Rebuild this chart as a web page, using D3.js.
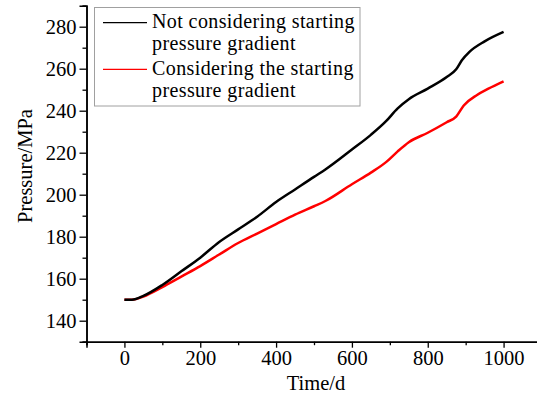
<!DOCTYPE html>
<html>
<head>
<meta charset="utf-8">
<script src="https://cdn.jsdelivr.net/npm/d3@7/dist/d3.min.js"></script>
<style>
  html, body { margin: 0; padding: 0; background: #fff; }
  svg { display: block; }
  text { font-family: "Liberation Serif", "Times New Roman", serif; fill: #000; }
</style>
</head>
<body>
<svg id="chart" width="537" height="397"></svg>
<script>
// Injection time (days) and wellhead pressure (MPa)
const timeNoGradient = [0, 20, 50, 100, 150, 200, 250, 300, 350, 400, 450, 500, 530, 600, 650, 690, 720, 750, 800, 850, 875, 890, 910, 950, 1000];
const pressureNoGradient = [150, 150, 151.8, 157, 163.5, 170, 177.5, 183.5, 189.5, 196.5, 202.5, 208.5, 212, 221.5, 228.5, 235, 241, 245.5, 250.5, 256, 259.7, 264, 268, 273, 277.5];

const timeGradient = [0, 20, 50, 100, 150, 200, 250, 300, 350, 400, 450, 500, 530, 600, 650, 690, 720, 750, 800, 850, 875, 895, 930, 960, 1000];
const pressureGradient = [150, 150, 151.5, 156, 161, 166, 171.5, 177, 181.5, 186, 190.5, 194.5, 197, 205, 210.5, 215.5, 220.5, 225, 229.5, 234.5, 237.2, 242.5, 247.5, 250.5, 254];

const seriesNames = [
  ["Not considering starting", "pressure gradient"],
  ["Considering the starting", "pressure gradient"]
];
const seriesColors = ["#000000", "#ff0000"];

const xMajorTicks = [0, 200, 400, 600, 800, 1000];
const xMinorTicks = [-100, 100, 300, 500, 700, 900, 1100];
const yMajorTicks = [140, 160, 180, 200, 220, 240, 260, 280];
const yMinorTicks = [130, 150, 170, 190, 210, 230, 250, 270, 290];

const svg = d3.select("#chart");

const x = d3.scaleLinear().domain([-100, 1100]).range([86.5, 541.5]);
const y = d3.scaleLinear().domain([130, 290]).range([341.7, 5.7]);

const xAxisY = y(130);
const yAxisX = x(-100);

// axes: major ticks with labels, minor ticks without
const gx = svg.append("g").attr("transform", `translate(0,${xAxisY})`);
gx.call(d3.axisBottom(x).tickValues(xMajorTicks).tickSize(6).tickPadding(3).tickFormat(d3.format("d")));
gx.append("g").call(d3.axisBottom(x).tickValues(xMinorTicks).tickSize(3.5).tickFormat(""));

const gy = svg.append("g").attr("transform", `translate(${yAxisX},0)`);
gy.call(d3.axisLeft(y).tickValues(yMajorTicks).tickSize(7).tickPadding(3).tickFormat(d3.format("d")));
gy.append("g").call(d3.axisLeft(y).tickValues(yMinorTicks).tickSize(4).tickFormat(""));

svg.selectAll(".domain").attr("stroke", "#000").attr("stroke-width", 1.5);
svg.selectAll(".tick line").attr("stroke", "#000").attr("stroke-width", 1.3);
svg.selectAll(".tick text")
  .attr("font-size", 20.5)
  .style("font-family", "'Liberation Serif', 'Times New Roman', serif");
gx.selectAll(".tick text").attr("dy", "0.72em");

// axis titles
svg.append("text")
  .attr("x", 316).attr("y", 390)
  .attr("text-anchor", "middle")
  .attr("font-size", 20.5)
  .text("Time/d");

svg.append("text")
  .attr("transform", "translate(32,166) rotate(-90)")
  .attr("text-anchor", "middle")
  .attr("font-size", 20.5)
  .text("Pressure/MPa");

// curves
const line = d3.line()
  .x(d => x(d[0]))
  .y(d => y(d[1]))
  .curve(d3.curveMonotoneX);

const curves = [
  d3.zip(timeNoGradient, pressureNoGradient),
  d3.zip(timeGradient, pressureGradient)
];

svg.append("g")
  .selectAll("path")
  .data([curves[1], curves[0]])
  .join("path")
  .attr("d", line)
  .attr("fill", "none")
  .attr("stroke", (d, i) => i === 0 ? seriesColors[1] : seriesColors[0])
  .attr("stroke-width", 2.5)
  .attr("stroke-linejoin", "round");

// legend
const legend = svg.append("g");
legend.append("rect")
  .attr("x", 94.5).attr("y", 7.5)
  .attr("width", 265.5).attr("height", 98.5)
  .attr("fill", "#fff")
  .attr("stroke", "#a0a0a0")
  .attr("stroke-width", 1);

const entryTop = [22.7, 69.3];
seriesNames.forEach((lines, i) => {
  const g = legend.append("g");
  g.append("line")
    .attr("x1", 103).attr("x2", 147)
    .attr("y1", entryTop[i]).attr("y2", entryTop[i])
    .attr("stroke", seriesColors[i])
    .attr("stroke-width", 1.2);
  lines.forEach((part, k) => {
    g.append("text")
      .attr("x", 152)
      .attr("y", entryTop[i] + 5.2 + k * 22.3)
      .attr("font-size", 20)
      .attr("letter-spacing", 0.4)
      .text(part);
  });
});
</script>
</body>
</html>
